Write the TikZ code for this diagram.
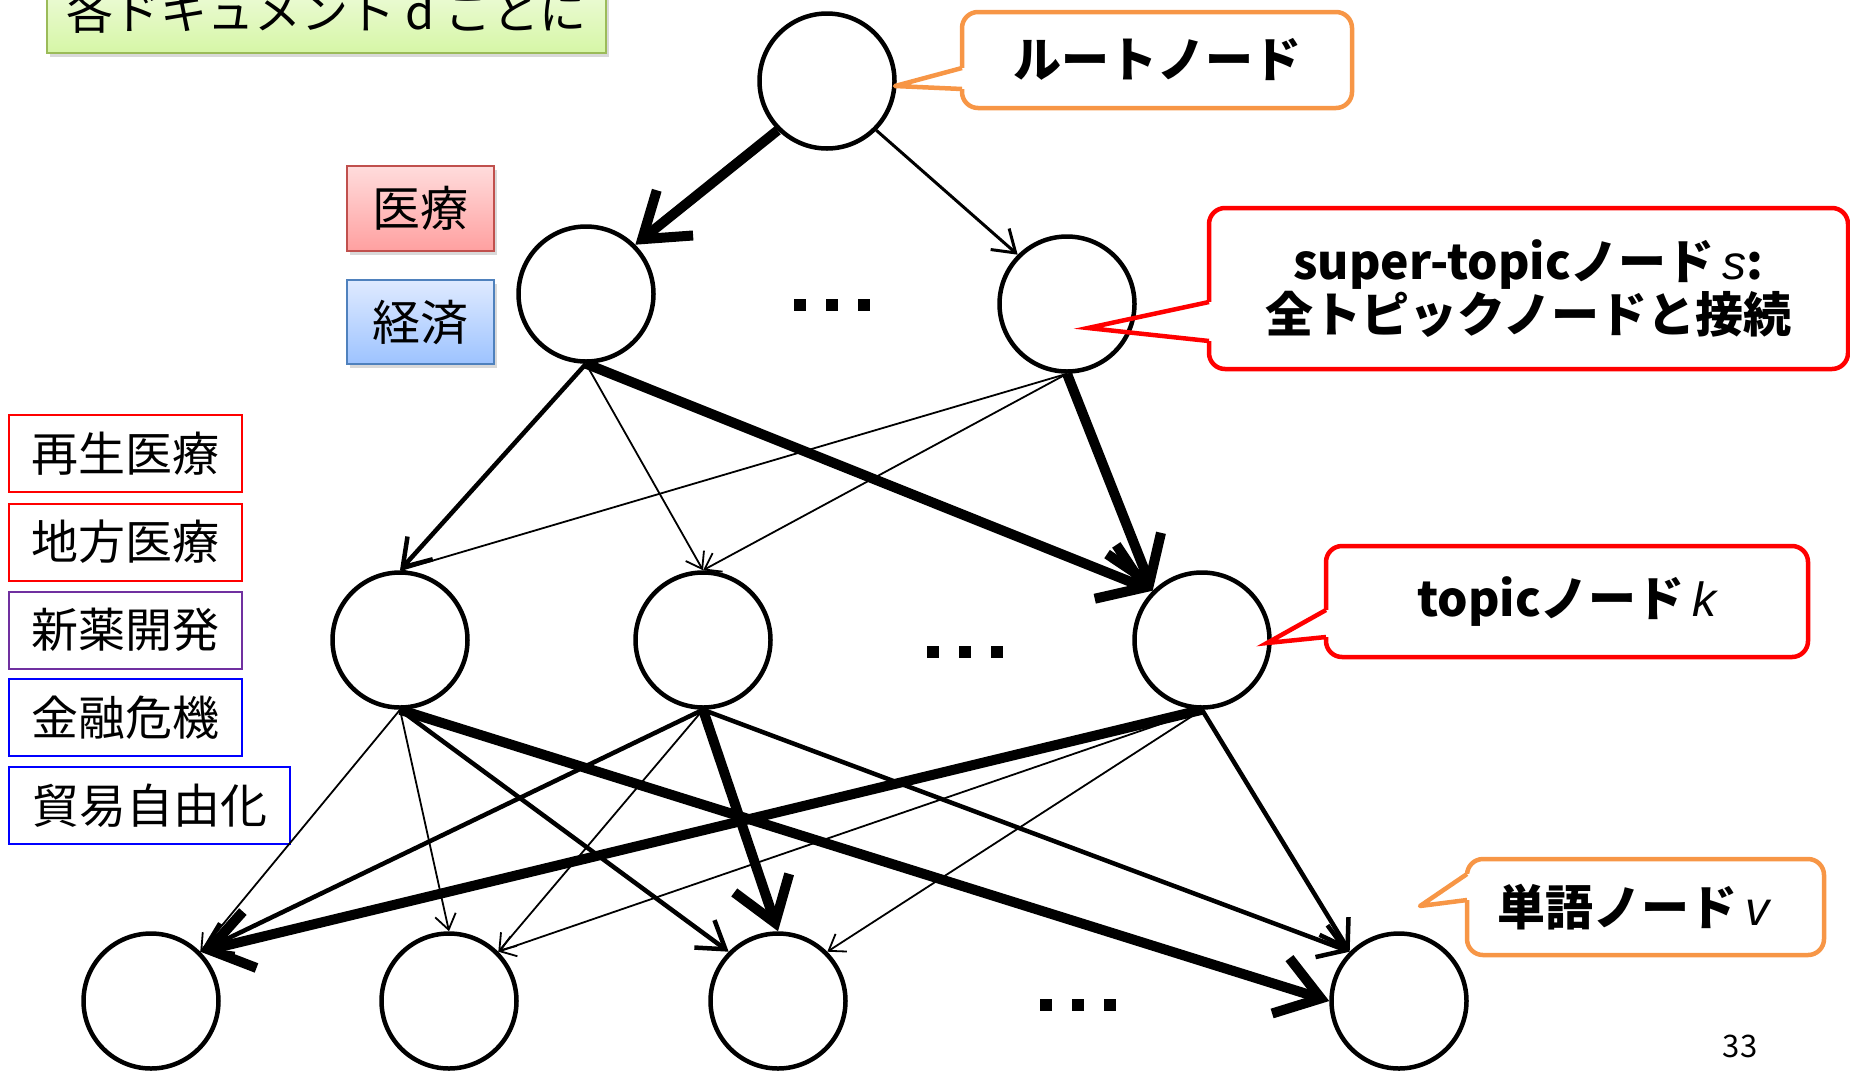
\documentclass[tikz,border=0pt]{standalone}
\usepackage{fontspec}
\setmainfont{Noto Sans CJK JP}
\newfontfamily\varfont{Liberation Sans}
\usetikzlibrary{arrows.meta,shadows}

\newcommand{\varit}[1]{{\varfont\itshape\mdseries #1}}
\newcommand{\dotrow}{\rule{11.5pt}{11.5pt}\hspace{20.5pt}\rule{11.5pt}{11.5pt}\hspace{20.5pt}\rule{11.5pt}{11.5pt}}

\definecolor{calorange}{HTML}{F79646}
\definecolor{calred}{HTML}{FF0000}
\definecolor{docgreen}{HTML}{9BBB59}
\definecolor{doctop}{HTML}{F3FCE6}
\definecolor{docbottom}{HTML}{D6F6A6}
\definecolor{medred}{HTML}{C0504D}
\definecolor{medtop}{HTML}{FFDCDC}
\definecolor{medbottom}{HTML}{FFA0A0}
\definecolor{ecoblue}{HTML}{4F81BD}
\definecolor{ecotop}{HTML}{DFEAFF}
\definecolor{ecobottom}{HTML}{9DC3FF}
\definecolor{catpurple}{HTML}{7030A0}

\tikzset{
  unit/.style={circle, draw, line width=4.5pt, minimum size=135pt, inner sep=0pt},
  w1/.style={line width=1.8pt, -{Straight Barb[length=15pt,width=21pt]}},
  w2/.style={line width=3pt, -{Straight Barb[length=21pt,width=28pt]}},
  w3/.style={line width=4.5pt, -{Straight Barb[length=26pt,width=34pt]}},
  w4/.style={line width=10pt, -{Straight Barb[length=42pt,width=58pt]}},
  calloutbox/.style={draw, line width=4.5pt, rounded corners=16pt, inner sep=0pt, outer sep=0pt,
    align=center, font=\bfseries\fontsize{48}{50}\selectfont},
  catbox/.style={draw, line width=2pt, inner sep=0pt, minimum height=77pt,
    font=\fontsize{47}{50}\selectfont},
  toplabel/.style={draw, line width=2pt, inner sep=0pt, minimum width=147pt,
    font=\fontsize{48}{50}\selectfont,
    drop shadow={shadow xshift=3pt, shadow yshift=-4pt, opacity=.3}},
  dotsnode/.style={inner sep=0pt}
}

\begin{document}
\begin{tikzpicture}[x=1pt,y=-1pt]
  \useasboundingbox (0,0) rectangle (1850,1072);

  % document box and category labels
  \node[draw=docgreen, line width=2.5pt, top color=doctop, bottom color=docbottom,
        minimum width=559pt, minimum height=82pt, inner sep=0pt,
        font=\fontsize{47}{50}\selectfont,
        drop shadow={shadow xshift=3pt, shadow yshift=-4pt, opacity=.3}] (docbox) at (326.5,12) {各ドキュメント d ごとに};
  \node[toplabel, draw=medred, top color=medtop, bottom color=medbottom, minimum height=85pt] (medical) at (420.5,208.5) {医療};
  \node[toplabel, draw=ecoblue, top color=ecotop, bottom color=ecobottom, minimum height=84pt] (economy) at (420.5,322) {経済};

  \node[catbox, draw=calred, minimum width=233pt] (regen) at (125.5,453.5) {再生医療};
  \node[catbox, draw=calred, minimum width=233pt] (local) at (125.5,542) {地方医療};
  \node[catbox, draw=catpurple, minimum width=233pt] (drug) at (125.5,630) {新薬開発};
  \node[catbox, draw=blue, minimum width=233pt] (crisis) at (125.5,717.5) {金融危機};
  \node[catbox, draw=blue, minimum width=281pt] (trade) at (149.5,805.5) {貿易自由化};

  % nodes
  \node[unit] (root) at (827,81) {};
  \node[unit] (stl) at (586,294) {};
  \node[unit] (str) at (1067,304) {};
  \node[dotsnode] (sdots) at (832,305) {\dotrow};
  \node[unit] (t1) at (400,640) {};
  \node[unit] (t2) at (703,640) {};
  \node[unit] (t3) at (1202,640) {};
  \node[dotsnode] (tdots) at (965,652) {\dotrow};
  \node[unit] (v1) at (151,1001) {};
  \node[unit] (v2) at (449,1001) {};
  \node[unit] (v3) at (778,1001) {};
  \node[unit] (v4) at (1399,1001) {};
  \node[dotsnode] (vdots) at (1078,1005) {\dotrow};

  % root -> super-topic
  \draw[w4] (root.south west) -- (stl.north east);
  \draw[w2] (root.south east) -- (str.north west);

  % super-topic -> topic
  \draw[w3] (stl.south) -- (t1.north);
  \draw[w1] (stl.south) -- (t2.north);
  \draw[w4] (stl.south) -- (t3.north west);
  \draw[w1] (str.south) -- (t1.north);
  \draw[w1] (str.south) -- (t2.north);
  \draw[w4] (str.south) -- (t3.north west);

  % topic -> word
  \draw[w1] (t1.south) -- (v1.north east);
  \draw[w1] (t1.south) -- (v2.north);
  \draw[w3] (t1.south) -- (v3.north west);
  \draw[w4] (t1.south) -- (v4.west);
  \draw[w3] (t2.south) -- (v1.north east);
  \draw[w1] (t2.south) -- (v2.north east);
  \draw[w4] (t2.south) -- (v3.north);
  \draw[w3] (t2.south) -- (v4.north west);
  \draw[w4] (t3.south) -- (v1.north east);
  \draw[w1] (t3.south) -- (v2.north east);
  \draw[w1] (t3.south) -- (v3.north east);
  \draw[w3] (t3.south) -- (v4.north west);

  % callouts
  \node[calloutbox, draw=calorange, minimum width=390pt, minimum height=96pt] (rootcall) at (1157,60) {ルートノード};
  \coordinate (rootptr) at (895,86);
  \fill[white] ([xshift=-3pt,yshift=-8pt]rootcall.west) rectangle ([xshift=3pt,yshift=-29pt]rootcall.west);
  \draw[calorange, line width=4.5pt, line join=round] ([yshift=-8pt]rootcall.west) -- (rootptr) -- ([yshift=-29pt]rootcall.west);

  \node[calloutbox, draw=calred, minimum width=639pt, minimum height=161pt] (stcall) at (1528.5,288.5)
    {super-topicノード\,\varit{s}:\\全トピックノードと接続};
  \coordinate (stptr) at (1088,328);
  \fill[white] ([xshift=-3pt,yshift=-13.5pt]stcall.west) rectangle ([xshift=3pt,yshift=-52.5pt]stcall.west);
  \draw[calred, line width=4.5pt] ([yshift=-13.5pt]stcall.west) -- (stptr) -- ([yshift=-52.5pt]stcall.west);

  \node[calloutbox, draw=calred, minimum width=482pt, minimum height=111pt] (tcall) at (1567,601.5) {topicノード\,\varit{k}};
  \coordinate (tptr) at (1267,643);
  \fill[white] ([xshift=-3pt,yshift=-8.5pt]tcall.west) rectangle ([xshift=3pt,yshift=-35.5pt]tcall.west);
  \draw[calred, line width=4.5pt] ([yshift=-8.5pt]tcall.west) -- (tptr) -- ([yshift=-35.5pt]tcall.west);

  \node[calloutbox, draw=calorange, minimum width=357pt, minimum height=96pt] (wcall) at (1645.5,907) {単語ノード\,\varit{v}\hspace*{24pt}};
  \coordinate (wptr) at (1420,906);
  \fill[white] ([xshift=-3pt,yshift=33pt]wcall.west) rectangle ([xshift=3pt,yshift=7pt]wcall.west);
  \draw[calorange, line width=4.5pt, line join=round] ([yshift=33pt]wcall.west) -- (wptr) -- ([yshift=7pt]wcall.west);

  % page number
  \node[font=\fontsize{31}{34}\selectfont] (pageno) at (1740,1046) {33};
\end{tikzpicture}
\end{document}
